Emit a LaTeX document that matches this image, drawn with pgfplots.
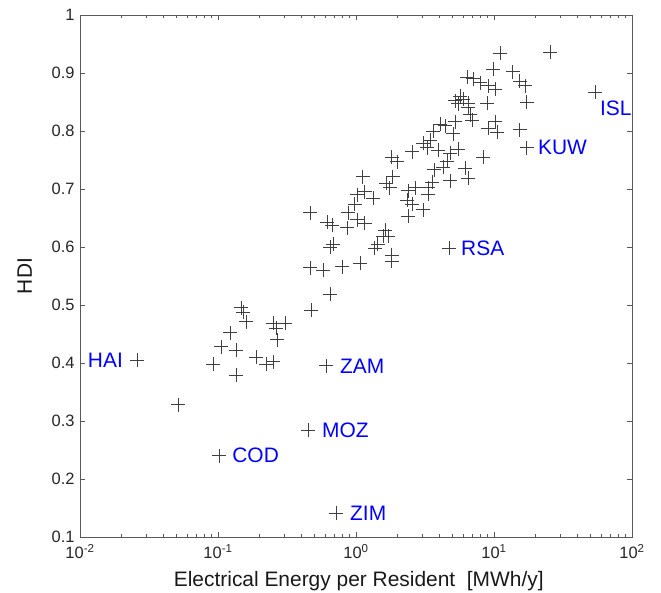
\documentclass[border=0pt]{standalone}
\usepackage{fontspec}
\setmainfont{Liberation Sans}
\usepackage{pgfplots}
\usepackage{pgfplotstable}
\pgfplotsset{compat=1.18}

% energy per resident (MWh/y) vs HDI, one row per country
\pgfplotstableread{
x y
11.1 0.934
25.5 0.936
9.83 0.907
13.7 0.902
6.37 0.893
7.04 0.890
7.92 0.883
9.05 0.878
10.2 0.872
15.4 0.886
16.8 0.878
17.3 0.850
5.67 0.860
5.96 0.855
5.22 0.852
5.48 0.847
6.48 0.848
8.90 0.848
6.48 0.840
53.9 0.867
6.70 0.828
6.93 0.819
10.2 0.816
10.5 0.798
9.05 0.805
15.4 0.802
4.06 0.812
4.41 0.809
5.22 0.816
3.61 0.800
5.05 0.795
3.06 0.779
3.27 0.771
3.93 0.767
5.48 0.769
4.80 0.762
8.32 0.755
2.55 0.764
3.44 0.784
1.82 0.755
1.98 0.747
17.3 0.771
4.56 0.748
4.27 0.738
3.67 0.733
6.17 0.736
4.80 0.714
6.48 0.719
3.55 0.712
3.32 0.702
3.32 0.691
1.85 0.721
1.65 0.710
1.76 0.702
1.12 0.721
1.16 0.695
1.33 0.684
2.38 0.697
2.68 0.702
2.34 0.681
2.55 0.674
3.06 0.664
2.38 0.653
1.02 0.690
0.98 0.674
0.464 0.659
0.617 0.643
0.670 0.638
0.861 0.633
0.875 0.659
1.02 0.647
1.16 0.641
0.648 0.600
0.681 0.605
1.62 0.629
1.71 0.619
1.57 0.619
1.37 0.598
1.44 0.605
1.82 0.586
1.82 0.576
0.464 0.564
0.577 0.560
0.792 0.566
1.07 0.572
4.72 0.598
0.648 0.519
0.472 0.491
0.147 0.495
0.152 0.488
0.160 0.471
0.122 0.452
0.105 0.428
0.135 0.422
0.092 0.398
0.135 0.379
0.189 0.410
0.250 0.469
0.306 0.469
0.263 0.460
0.268 0.440
0.223 0.398
0.250 0.402
0.0513 0.328
0.0259 0.405
0.606 0.395
0.449 0.284
0.102 0.240
0.716 0.141
}\hdidata

\begin{document}
\begin{tikzpicture}
\begin{axis}[
    scale only axis,
    width=552bp, height=522bp,
    xmode=log,
    xmin=0.01, xmax=100,
    ymin=0.1, ymax=1,
    clip=false,
    axis line style={black!65},
    every tick/.style={black!65},
    tick align=inside,
    xtick pos=both, ytick pos=both,
    xtick={0.01,0.1,1,10,100},
    xticklabels={10\textsuperscript{-2},10\textsuperscript{-1},10\textsuperscript{0},10\textsuperscript{1},10\textsuperscript{2}},
    minor xtick={0.02,0.03,0.04,0.05,0.06,0.07,0.08,0.09,
                 0.2,0.3,0.4,0.5,0.6,0.7,0.8,0.9,
                 2,3,4,5,6,7,8,9,20,30,40,50,60,70,80,90},
    ytick={0.1,0.2,0.3,0.4,0.5,0.6,0.7,0.8,0.9,1},
    yticklabels={0.1,0.2,0.3,0.4,0.5,0.6,0.7,0.8,0.9,1},
    major tick length=5bp,
    minor tick length=3bp,
    tick label style={font=\fontsize{16.5}{18}\selectfont, text=black!85},
    xticklabel style={yshift=-4bp},
    yticklabel style={xshift=-2bp},
    label style={font=\fontsize{21}{24}\selectfont, text=black!90},
    xlabel={Electrical Energy per Resident\ \ [MWh/y]},
    ylabel={HDI},
    xlabel style={at={(axis description cs:0.505,-0.085)}, anchor=center},
    ylabel style={at={(axis description cs:-0.1,0.5)}, anchor=center},
]
\addplot[only marks, mark=+, mark size=7bp,
    mark options={draw=black!75, line width=0.8bp}] table {\hdidata};

\coordinate (ll) at (rel axis cs:0,0);
\coordinate (ur) at (rel axis cs:1,1);

\begin{scope}[every node/.style={text=blue, font=\fontsize{21}{24}\selectfont, inner sep=0pt}]
\node[anchor=east] at ([xshift=-14bp]axis cs:0.0259,0.405) {HAI};
\node[anchor=west] at ([xshift=14bp]axis cs:0.606,0.395) {ZAM};
\node[anchor=west] at ([xshift=14bp]axis cs:0.449,0.284) {MOZ};
\node[anchor=west] at ([xshift=13bp]axis cs:0.102,0.240) {COD};
\node[anchor=west] at ([xshift=14bp]axis cs:0.716,0.141) {ZIM};
\node[anchor=west] at ([xshift=12bp]axis cs:4.72,0.598) {RSA};
\node[anchor=west] at ([xshift=11bp]axis cs:17.3,0.771) {KUW};
\node[anchor=west] at ([xshift=5bp,yshift=-16bp]axis cs:53.9,0.867) {ISL};
\end{scope}
\end{axis}
\pgfresetboundingbox
\path ([shift={(-80bp,-56bp)}]ll) rectangle ([shift={(29bp,15bp)}]ur);
\end{tikzpicture}
\end{document}
